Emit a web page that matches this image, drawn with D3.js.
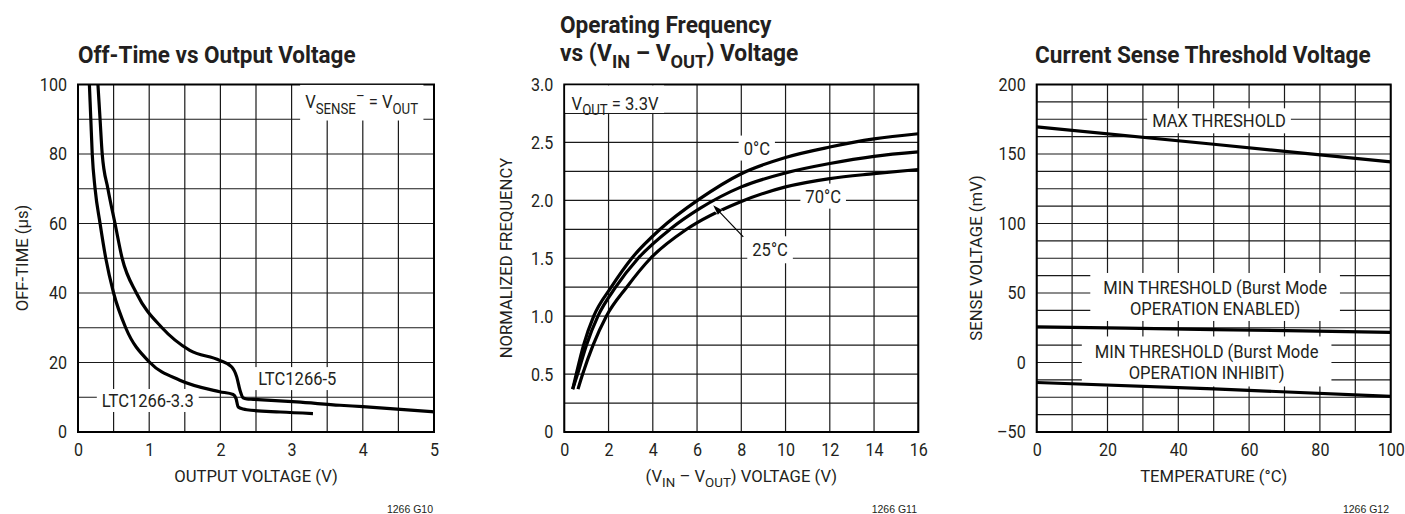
<!DOCTYPE html>
<html>
<head>
<meta charset="utf-8">
<script src="https://cdn.jsdelivr.net/npm/d3@7"></script>
<style>
body { margin: 0; background: #fff; }
svg text { font-family: Roboto, "Liberation Sans", Arial, sans-serif; fill: #231f20; }
</style>
</head>
<body>
<svg id="chart" width="1405" height="514"></svg>
<script>
// --- data ---
var offVolts5 = [0.28, 0.31, 0.34, 0.42, 0.52, 0.62, 0.82, 1.18, 1.57, 1.99, 2.16, 2.23, 2.275, 2.32, 2.37, 2.46, 3.07, 3.68, 4.0, 5.0];
var offTime5  = [100, 90, 80, 70, 60, 50, 40, 30, 23.5, 20.6, 18.7, 15.8, 12, 9.8, 9.5, 9.4, 8.65, 7.7, 7.3, 5.8];
var offVolts33 = [0.16, 0.18, 0.2, 0.24, 0.31, 0.39, 0.5, 0.67, 1.01, 1.43, 1.99, 2.18, 2.22, 2.25, 2.32, 2.37, 2.84, 3.3];
var offTime33  = [100, 90, 80, 70, 60, 50, 40, 30, 20, 14.9, 11.6, 10.8, 9.6, 7.2, 6.6, 6.4, 5.75, 5.3];

var freqVin0  = [0.38, 0.54, 0.87, 1.33, 2.12, 3.05, 4.33, 6.1, 8, 10, 12, 14, 16];
var freq0     = [0.37, 0.5, 0.75, 1.0, 1.25, 1.5, 1.75, 2.01, 2.23, 2.37, 2.46, 2.53, 2.575];
var freqVin25 = [0.38, 0.6, 1.0, 1.52, 2.32, 3.34, 4.78, 6.13, 8, 10, 12, 14, 16];
var freq25    = [0.37, 0.5, 0.75, 1.0, 1.25, 1.5, 1.75, 1.93, 2.116, 2.237, 2.318, 2.38, 2.418];
var freqVin70 = [0.62, 0.83, 1.3, 1.9, 2.82, 3.9, 5.53, 8, 10, 12, 14, 16];
var freq70    = [0.37, 0.5, 0.75, 1.0, 1.25, 1.5, 1.75, 1.99, 2.116, 2.188, 2.23, 2.266];

var tempC      = [0, 50, 100];
var maxThresh  = [169.5, 157, 144.3];
var minEnabled = [25.7, 23.7, 21.7];
var minInhibit = [-14.4, -19, -24.3];

var xTicks1 = [0, 1, 2, 3, 4, 5],           yTicks1 = [0, 20, 40, 60, 80, 100];
var xTicks2 = [0, 2, 4, 6, 8, 10, 12, 14, 16], yTicks2 = [0, 0.5, 1.0, 1.5, 2.0, 2.5, 3.0];
var xTicks3 = [0, 20, 40, 60, 80, 100],     yTicks3 = [-50, 0, 50, 100, 150, 200];

var svg = d3.select("#chart");
var top0 = 84.5, bottom0 = 432;

function zip(xs, ys) { return xs.map(function (v, i) { return [v, ys[i]]; }); }

// squeeze a text horizontally (the datasheet face is a narrow Helvetica)
function condense(t, k) {
    t.each(function () {
        var w = this.getComputedTextLength();
        d3.select(this).attr("textLength", w * k).attr("lengthAdjust", "spacingAndGlyphs");
    });
    return t;
}

// text with sub / superscript pieces: ["V", ["OUT", 1]]  1 = sub, -1 = sup
function rich(g, x, y, parts, size, anchor, k) {
    var t = g.append("text").attr("x", x).attr("y", y)
        .style("font-size", size + "px")
        .attr("text-anchor", anchor || "start");
    var cur = 0;
    parts.forEach(function (p) {
        var s = typeof p === "string" ? p : p[0];
        var kind = typeof p === "string" ? 0 : p[1];
        var off = kind === 1 ? size * 0.28 : kind === -1 ? -size * 0.42 : 0;
        var ts = t.append("tspan").attr("dy", off - cur).text(s);
        if (kind) ts.style("font-size", (size * 0.8) + "px");
        cur = off;
    });
    return condense(t, k || 0.92);
}

function boxed(g, t, px, py) {
    var b = t.node().getBBox();
    g.insert("rect", function () { return t.node(); })
        .attr("x", b.x - px).attr("y", b.y - py)
        .attr("width", b.width + 2 * px).attr("height", b.height + 2 * py)
        .attr("fill", "#fff");
}

function panel(o) {
    var x = d3.scaleLinear().domain(o.xDomain).range([o.left, o.right]);
    var y = d3.scaleLinear().domain(o.yDomain).range([bottom0, top0]);
    var g = svg.append("g");

    g.selectAll(".vg").data(d3.range(o.xDomain[0], o.xDomain[1] + 1e-9, o.xGrid)).enter()
        .append("line")
        .attr("x1", function (d) { return x(d); }).attr("x2", function (d) { return x(d); })
        .attr("y1", y.range()[0]).attr("y2", y.range()[1])
        .attr("stroke", "#1a1a1a").attr("stroke-width", 1.2);
    g.selectAll(".hg").data(d3.range(o.yDomain[0], o.yDomain[1] + 1e-9, o.yGrid)).enter()
        .append("line")
        .attr("y1", function (d) { return y(d); }).attr("y2", function (d) { return y(d); })
        .attr("x1", x.range()[0]).attr("x2", x.range()[1])
        .attr("stroke", "#1a1a1a").attr("stroke-width", 1.2);

    g.append("rect")
        .attr("x", o.left).attr("y", top0)
        .attr("width", o.right - o.left).attr("height", bottom0 - top0)
        .attr("fill", "none").attr("stroke", "#000").attr("stroke-width", 2);

    var xa = g.append("g").attr("transform", "translate(0," + bottom0 + ")")
        .call(d3.axisBottom(x).tickValues(o.xTicks).tickSize(0).tickPadding(11).tickFormat(o.xFormat || d3.format("")));
    var ya = g.append("g").attr("transform", "translate(" + o.left + ",0)")
        .call(d3.axisLeft(y).tickValues(o.yTicks).tickSize(0).tickPadding(11).tickFormat(o.yFormat || d3.format("")));
    [xa, ya].forEach(function (a) {
        a.select(".domain").remove();
        var tx = a.selectAll("text").attr("fill", "#231f20").style("font-size", "18.5px")
            .style("font-family", "Roboto, sans-serif");
        condense(tx, 0.87);
    });

    return { g: g, x: x, y: y };
}

var line = d3.line().curve(d3.curveMonotoneX);

function curve(p, pts) {
    p.g.append("path")
        .datum(pts)
        .attr("d", line.x(function (d) { return p.x(d[0]); }).y(function (d) { return p.y(d[1]); }))
        .attr("fill", "none").attr("stroke", "#000").attr("stroke-width", 3.2)
        .attr("stroke-linejoin", "round");
}

function title(g, x, y, parts) {
    return rich(g, x, y, parts, 24, "start", 0.96).style("font-weight", "bold");
}
function axisTitle(g, x, y, parts, rotate) {
    var t = rich(g, rotate ? 0 : x, rotate ? 0 : y, parts, 16.5, "middle", 1.01);
    if (rotate) t.attr("transform", "translate(" + x + "," + y + ") rotate(-90)");
    return t;
}
function footer(g, x, s) {
    g.append("text").attr("x", x).attr("y", 513).attr("text-anchor", "end")
        .style("font-size", "10.5px").style("font-family", "Liberation Sans, Arial, sans-serif").text(s);
}

// ---------------- panel 1 ----------------
var p1 = panel({ left: 78, right: 434, xDomain: [0, 5], yDomain: [0, 100], xGrid: 0.5, yGrid: 10,
    xTicks: xTicks1, yTicks: yTicks1 });

var t = rich(p1.g, p1.x(3.19), p1.y(93.1), ["V", ["SENSE", 1], ["\u2013", -1], " = V", ["OUT", 1]], 18);
boxed(p1.g, t, 5, 3);
t = rich(p1.g, p1.x(3.08), p1.y(13.5), ["LTC1266-5"], 18, "middle");
boxed(p1.g, t, 4, 1);
t = rich(p1.g, p1.x(0.98), p1.y(7.2), ["LTC1266-3.3"], 18, "middle");
boxed(p1.g, t, 5, 1);

curve(p1, zip(offVolts5, offTime5));
curve(p1, zip(offVolts33, offTime33));

title(p1.g, 78, 63, ["Off-Time vs Output Voltage"]);
axisTitle(p1.g, 256, 482, ["OUTPUT VOLTAGE (V)"]);
axisTitle(p1.g, 28, 258, ["OFF-TIME (\u00b5s)"], true);
footer(p1.g, 433, "1266 G10");

// ---------------- panel 2 ----------------
var p2 = panel({ left: 564.3, right: 918.3, xDomain: [0, 16], yDomain: [0, 3], xGrid: 2, yGrid: 0.25,
    xTicks: xTicks2, yTicks: yTicks2,
    yFormat: function (d) { return d === 0 ? "0" : d3.format(".1f")(d); } });

t = rich(p2.g, p2.x(0.33), p2.y(2.78), ["V", ["OUT", 1], " = 3.3V"], 18);
var bv = t.node().getBBox();
p2.g.insert("rect", function () { return t.node(); })
    .attr("x", p2.x(0) + 1).attr("y", top0 + 1)
    .attr("width", bv.x + bv.width + 4 - p2.x(0))
    .attr("height", p2.y(2.75) - top0 - 1.5).attr("fill", "#fff");
t = rich(p2.g, p2.x(8.7), p2.y(2.395), ["0\u00b0C"], 18, "middle");
boxed(p2.g, t, 5, 2);
t = rich(p2.g, p2.x(11.7), p2.y(1.98), ["70\u00b0C"], 18, "middle");
boxed(p2.g, t, 5, 2);
t = rich(p2.g, p2.x(9.3), p2.y(1.517), ["25\u00b0C"], 18, "middle");
boxed(p2.g, t, 5, 3);

curve(p2, zip(freqVin0, freq0));
curve(p2, zip(freqVin25, freq25));
curve(p2, zip(freqVin70, freq70));

// arrow to the 25C curve
var ax0 = p2.x(8.09), ay0 = p2.y(1.685), ax1 = p2.x(6.73), ay1 = p2.y(1.957);
var ang = Math.atan2(ay1 - ay0, ax1 - ax0);
p2.g.append("line").attr("x1", ax0 + (ax1 - ax0) * 0.6).attr("y1", ay0 + (ay1 - ay0) * 0.6)
    .attr("x2", ax1 - Math.cos(ang) * 4).attr("y2", ay1 - Math.sin(ang) * 4)
    .attr("stroke", "#fff").attr("stroke-width", 6);
p2.g.append("line").attr("x1", ax0).attr("y1", ay0)
    .attr("x2", ax1 - Math.cos(ang) * 6).attr("y2", ay1 - Math.sin(ang) * 6)
    .attr("stroke", "#000").attr("stroke-width", 1.2);
var hl = 10, hw = 3.2;
p2.g.append("path")
    .attr("d", "M" + ax1 + "," + ay1 +
        "L" + (ax1 - hl * Math.cos(ang) + hw * Math.sin(ang)) + "," + (ay1 - hl * Math.sin(ang) - hw * Math.cos(ang)) +
        "L" + (ax1 - hl * Math.cos(ang) - hw * Math.sin(ang)) + "," + (ay1 - hl * Math.sin(ang) + hw * Math.cos(ang)) + "Z")
    .attr("fill", "#000");

title(p2.g, 560, 33, ["Operating Frequency"]);
title(p2.g, 560, 61, ["vs (V", ["IN", 1], " \u2013 V", ["OUT", 1], ") Voltage"]);
axisTitle(p2.g, 741.3, 482, ["(V", ["IN", 1], " \u2013 V", ["OUT", 1], ") VOLTAGE (V)"]);
axisTitle(p2.g, 511.5, 258, ["NORMALIZED FREQUENCY"], true);
footer(p2.g, 917, "1266 G11");

// ---------------- panel 3 ----------------
var p3 = panel({ left: 1036.7, right: 1390.7, xDomain: [0, 100], yDomain: [-50, 200], xGrid: 10, yGrid: 12.5,
    xTicks: xTicks3, yTicks: yTicks3,
    yFormat: function (d) { return d < 0 ? "\u2013" + (-d) : String(d); } });

t = rich(p3.g, p3.x(51.5), p3.y(169.2), ["MAX THRESHOLD"], 18, "middle");
boxed(p3.g, t, 5, 2);
var tA = rich(p3.g, p3.x(50.4), p3.y(49.3), ["MIN THRESHOLD (Burst Mode"], 18, "middle");
var tB = rich(p3.g, p3.x(50.4), p3.y(34.2), ["OPERATION ENABLED)"], 18, "middle");
var bA = tA.node().getBBox(), bB = tB.node().getBBox();
p3.g.insert("rect", function () { return tA.node(); })
    .attr("x", bA.x - 13).attr("y", bA.y - 4).attr("width", bA.width + 26)
    .attr("height", bB.y + bB.height - bA.y + 5).attr("fill", "#fff");
tA = rich(p3.g, p3.x(48), p3.y(2.9), ["MIN THRESHOLD (Burst Mode"], 18, "middle");
tB = rich(p3.g, p3.x(48), p3.y(-12.2), ["OPERATION INHIBIT)"], 18, "middle");
bA = tA.node().getBBox(); bB = tB.node().getBBox();
p3.g.insert("rect", function () { return tA.node(); })
    .attr("x", bA.x - 13).attr("y", bA.y - 5).attr("width", bA.width + 26)
    .attr("height", bB.y + bB.height - bA.y + 7).attr("fill", "#fff");

curve(p3, zip(tempC, maxThresh));
curve(p3, zip(tempC, minEnabled));
curve(p3, zip(tempC, minInhibit));

title(p3.g, 1035, 62.5, ["Current Sense Threshold Voltage"]);
axisTitle(p3.g, 1213.7, 482, ["TEMPERATURE (\u00b0C)"]);
axisTitle(p3.g, 982, 258, ["SENSE VOLTAGE (mV)"], true);
footer(p3.g, 1389, "1266 G12");
</script>
</body>
</html>
